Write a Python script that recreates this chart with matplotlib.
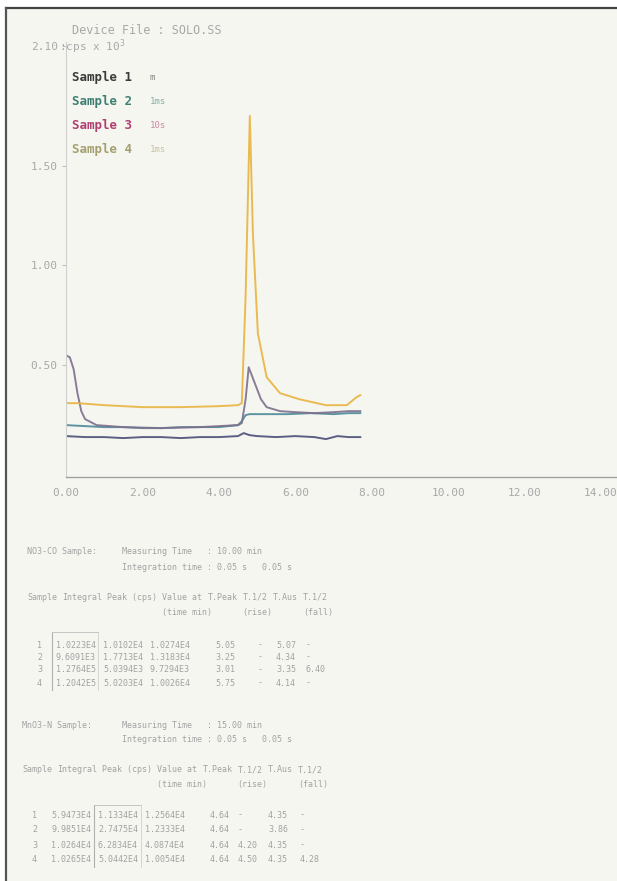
import matplotlib
matplotlib.use("Agg")
import matplotlib.pyplot as plt
from matplotlib.lines import Line2D
from matplotlib.patches import Rectangle

# --- chromatogram data (time in min, signal in cps x 10^3) ---
t1 = [0.0, 0.5, 1.0, 1.5, 2.0, 2.5, 3.0, 3.5, 4.0, 4.5, 4.65, 4.8, 5.0, 5.5, 6.0, 6.5, 6.8, 7.1, 7.4, 7.7]
s1 = [0.145, 0.14, 0.14, 0.135, 0.14, 0.14, 0.135, 0.14, 0.14, 0.145, 0.16, 0.15, 0.145, 0.14, 0.145, 0.14, 0.13, 0.145, 0.14, 0.14]

t2 = [0.0, 0.5, 1.0, 1.5, 2.0, 2.5, 3.0, 3.5, 4.0, 4.5, 4.6, 4.7, 4.8, 5.2, 5.8, 6.4, 7.0, 7.4, 7.7]
s2 = [0.20, 0.195, 0.19, 0.19, 0.185, 0.185, 0.19, 0.19, 0.19, 0.20, 0.22, 0.25, 0.255, 0.255, 0.255, 0.26, 0.255, 0.26, 0.26]

t3 = [0.0, 0.1, 0.2, 0.3, 0.4, 0.5, 0.8, 1.5, 2.5, 3.5, 4.5, 4.6, 4.7, 4.78, 4.9, 5.0, 5.1, 5.25, 5.6, 6.0, 6.5, 7.0, 7.4, 7.7]
s3 = [0.55, 0.54, 0.48, 0.36, 0.27, 0.23, 0.20, 0.19, 0.185, 0.19, 0.20, 0.21, 0.33, 0.49, 0.43, 0.38, 0.33, 0.29, 0.27, 0.265, 0.26, 0.265, 0.27, 0.27]

t4 = [0.0, 0.3, 1.0, 2.0, 3.0, 4.0, 4.5, 4.6, 4.7, 4.81, 4.89, 5.02, 5.25, 5.6, 6.1, 6.8, 7.35, 7.6, 7.7]
s4 = [0.31, 0.31, 0.30, 0.29, 0.29, 0.295, 0.30, 0.31, 0.85, 1.75, 1.16, 0.66, 0.44, 0.36, 0.33, 0.30, 0.30, 0.34, 0.35]

line_colors = ["#4a4f78", "#4b8a99", "#7d6f8c", "#e8b440"]
legend_names = ["Sample 1", "Sample 2", "Sample 3", "Sample 4"]
legend_units = ["m", "1ms", "10s", "1ms"]
legend_colors = ["#3a3a3a", "#3f7f72", "#b04070", "#a4a070"]

xticks = [0, 2, 4, 6, 8, 10, 12, 14]
yticks = [0.5, 1.0, 1.5, 2.1]

# --- result tables ---
headers = ["Sample", "Integral", "Peak (cps)", "Value at", "T.Peak", "T.1/2", "T.Aus", "T.1/2"]
headers2 = ["", "", "", "(time min)", "", "(rise)", "", "(fall)"]

block1_title = "NO3-CO Sample:"
block1_info = ["Measuring Time   : 10.00 min", "Integration time : 0.05 s   0.05 s"]
block1_rows = [
    ["1", "1.0223E4", "1.0102E4", "1.0274E4", "5.05", "-", "5.07", "-"],
    ["2", "9.6091E3", "1.7713E4", "1.3183E4", "3.25", "-", "4.34", "-"],
    ["3", "1.2764E5", "5.0394E3", "9.7294E3", "3.01", "-", "3.35", "6.40"],
    ["4", "1.2042E5", "5.0203E4", "1.0026E4", "5.75", "-", "4.14", "-"],
]

block2_title = "MnO3-N Sample:"
block2_info = ["Measuring Time   : 15.00 min", "Integration time : 0.05 s   0.05 s"]
block2_rows = [
    ["1", "5.9473E4", "1.1334E4", "1.2564E4", "4.64", "-", "4.35", "-"],
    ["2", "9.9851E4", "2.7475E4", "1.2333E4", "4.64", "-", "3.86", "-"],
    ["3", "1.0264E4", "6.2834E4", "4.0874E4", "4.64", "4.20", "4.35", "-"],
    ["4", "1.0265E4", "5.0442E4", "1.0054E4", "4.64", "4.50", "4.35", "4.28"],
]

W, H = 617, 881
MONO = "DejaVu Sans Mono"
GREY = "#a2a2a2"
FS = 6.0
CW = 0.602 * FS * 100 / 72  # monospace advance in pixels


def fx(x):
    return x / W


def fy(y):
    return 1 - y / H


fig = plt.figure(figsize=(W / 100, H / 100), dpi=100, facecolor="white")

# paper sheet with dark edge at top and left
fig.patches.append(Rectangle((fx(6), 0), 1, fy(8), transform=fig.transFigure,
                             facecolor="#f6f6f1", edgecolor="none", zorder=-5))
fig.lines.append(Line2D([fx(6), 1], [fy(8), fy(8)], transform=fig.transFigure,
                        color="#444444", lw=1.6))
fig.lines.append(Line2D([fx(6), fx(6)], [0, fy(8)], transform=fig.transFigure,
                        color="#555555", lw=1.6))

ax = fig.add_axes([fx(66), fy(477), (624 - 66) / W, (477 - 42) / H])
ax.set_facecolor("none")
ax.set_zorder(2)
ax.set_xlim(0, 14.6)
ax.set_ylim(-0.06, 2.12)

for t, s, c in zip([t1, t2, t3, t4], [s1, s2, s3, s4], line_colors):
    ax.plot(t, s, color=c, lw=1.4, alpha=0.9, solid_joinstyle="round")

for side in ["top", "right"]:
    ax.spines[side].set_visible(False)
ax.spines["left"].set_color("#cfcfcf")
ax.spines["left"].set_linewidth(0.8)
ax.spines["bottom"].set_color("#a0a0a0")
ax.spines["bottom"].set_linewidth(1.0)

ax.set_xticks(xticks)
ax.set_xticklabels(["%.2f" % v for v in xticks], fontfamily=MONO)
ax.set_yticks(yticks)
ax.set_yticklabels(["%.2f" % v for v in yticks], fontfamily=MONO)
ax.tick_params(axis="x", length=0, pad=8, labelsize=8, labelcolor="#a8a8a8")
ax.tick_params(axis="y", length=3, color="#c0c0c0", pad=3, labelsize=8, labelcolor="#a8a8a8")

fig.text(fx(59), fy(47), ":cps x 10$^3$", fontsize=8, color="#a8a8a8", family=MONO, va="center")
fig.text(fx(72), fy(30), "Device File : SOLO.SS", fontsize=8.5, color="#a8a8a8", family=MONO, va="center")

for i, (name, unit, col) in enumerate(zip(legend_names, legend_units, legend_colors)):
    y = 78 + i * 24
    fig.text(fx(72), fy(y), name, fontsize=9, color=col, family=MONO, weight="bold", va="center")
    fig.text(fx(150), fy(y), unit, fontsize=6.5, color=col, alpha=0.6, family=MONO, va="center")


def txt(x, y, s):
    fig.text(fx(x), fy(y), s, fontsize=FS, color=GREY, family=MONO, va="center")


def draw_block(title, info, rows, top, x0, cx, row_y):
    txt(x0, top, title)
    txt(122, top, info[0])
    txt(122, top + 15, info[1])
    # header laid out as one typed line, sub-header aligned under its column
    pos = x0
    for h, h2 in zip(headers, headers2):
        txt(pos, top + 45, h)
        if h2:
            txt(pos, top + 60, h2)
        pos += (len(h) + 1) * CW
    for row, y in zip(rows, row_y):
        for cell, x in zip(row, cx):
            txt(x, y, cell)


draw_block(block1_title, block1_info, block1_rows, 552, 27,
           [37, 56, 103, 150, 215, 258, 276, 306], [645, 657, 670, 683])
draw_block(block2_title, block2_info, block2_rows, 725, 22,
           [32, 51, 98, 145, 210, 238, 268, 300], [815, 830, 845, 860])

# hand-drawn boxes around integral / peak columns
for (x0, x1, y0, y1) in [(52, 98, 632, 690), (94, 141, 805, 867)]:
    fig.lines.append(Line2D([fx(x0), fx(x0)], [fy(y0), fy(y1)], transform=fig.transFigure,
                            color="#b0b0b0", lw=0.8))
    fig.lines.append(Line2D([fx(x0), fx(x1)], [fy(y0), fy(y0)], transform=fig.transFigure,
                            color="#c4c4c4", lw=0.7))
    fig.lines.append(Line2D([fx(x1), fx(x1)], [fy(y0), fy(y1)], transform=fig.transFigure,
                            color="#d0d0d0", lw=0.6))

fig.savefig("out.png", dpi=100, facecolor="white")
